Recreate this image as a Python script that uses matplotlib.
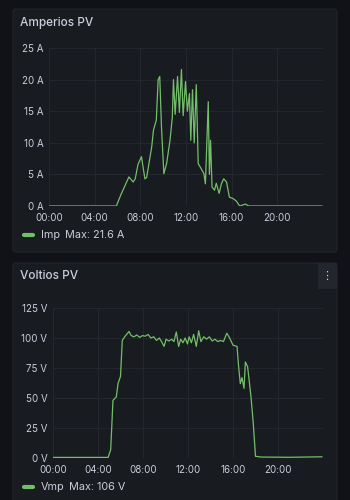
import matplotlib
matplotlib.use("Agg")
import matplotlib.pyplot as plt
from matplotlib.patches import FancyBboxPatch, Rectangle
from matplotlib.lines import Line2D

# Amperios PV (hours of day, amps)
imp_t = [0, 5.9, 6.3, 7.0, 7.37, 7.55, 7.8, 8.1, 8.4, 8.55,
         9.0, 9.15, 9.4, 9.56, 9.7, 9.85, 10.06, 10.3, 10.6, 10.8,
         10.9, 11.05, 11.26, 11.42, 11.6, 11.75, 11.96, 12.12, 12.3, 12.42,
         12.57, 12.72, 12.9, 13.07, 13.3, 13.57, 13.7, 13.95, 14.05, 14.15,
         14.28, 14.5, 14.65, 14.9, 15.1, 15.3, 15.55, 15.8, 16.1, 16.4,
         16.7, 17.2, 17.5, 23.9]
imp_v = [0, 0, 1.8, 4.6, 3.8, 4.3, 6.6, 7.8, 4.3, 4.5,
         9.4, 12.0, 13.6, 20.0, 20.5, 12.6, 5.1, 6.7, 10.4, 14.0,
         20.0, 14.5, 20.5, 14.8, 21.6, 14.3, 19.7, 15.0, 17.8, 10.4,
         18.4, 10.0, 19.2, 6.7, 6.0, 5.1, 3.5, 16.5, 5.0, 10.4,
         3.0, 2.5, 3.6, 2.0, 3.5, 4.3, 3.8, 1.4, 1.2, 0.8,
         0, 0.3, 0, 0]

# Voltios PV (hours of day, volts)
vmp_t = [0, 4.9, 5.13, 5.33, 5.63, 5.78, 6.0, 6.16, 6.37, 6.55,
         6.76, 6.95, 7.2, 7.45, 7.7, 7.95, 8.2, 8.45, 8.7, 8.95,
         9.2, 9.45, 9.65, 9.87, 10.05, 10.3, 10.55, 10.75, 10.96, 11.17,
         11.35, 11.55, 11.75, 11.95, 12.1, 12.3, 12.5, 12.74, 12.95, 13.15,
         13.4, 13.65, 13.9, 14.15, 14.4, 14.65, 14.9, 15.15, 15.45, 15.7,
         16.0, 16.36, 16.5, 16.65, 16.8, 16.98, 17.1, 17.3, 17.6, 17.8,
         18.0, 18.5, 21.0, 23.9]
vmp_v = [0.5, 0.5, 7, 48, 51, 62, 68, 98, 101, 103,
         105.5, 102, 101, 102.5, 100.5, 102, 101.5, 103, 100, 101,
         98, 100, 97, 93, 99, 97.5, 99, 97, 105, 93,
         99, 96, 100, 95, 101, 96, 103, 93, 106, 97,
         101, 99, 101, 97.5, 99, 97, 98, 97, 104, 100,
         94, 93, 76, 62, 67, 58, 80, 76, 51, 29,
         1.4, 0.8, 0.6, 1.0]

x_ticks = [0, 4, 8, 12, 16, 20]
x_labels = ["00:00", "04:00", "08:00", "12:00", "16:00", "20:00"]
imp_ticks = [0, 5, 10, 15, 20, 25]
vmp_ticks = [0, 25, 50, 75, 100, 125]

BG = "#111217"
PANEL = "#181b1f"
TXT = "#ccccdc"
GRID = "#26292f"
GREEN = "#73bf69"

plt.rcParams["font.family"] = ["Inter", "DejaVu Sans"]

W, H = 350, 500
fig = plt.figure(figsize=(3.5, 5), dpi=100, facecolor=BG)


def fx(px):
    return px / W


def fy(py):
    return 1 - py / H


def panel(x0, y0, x1, y1):
    p = FancyBboxPatch((fx(x0), fy(y1)), fx(x1 - x0), (y1 - y0) / H,
                       boxstyle="round,pad=0,rounding_size=0.008",
                       transform=fig.transFigure, facecolor=PANEL,
                       edgecolor="#22252b", linewidth=0.8, zorder=-10)
    fig.patches.append(p)


panel(13, 9, 337, 252)
panel(13, 263, 337, 505)

# menu button on lower panel
fig.patches.append(Rectangle((fx(318), fy(289)), fx(19), 26 / H,
                             transform=fig.transFigure, facecolor="#23262c",
                             edgecolor="none", zorder=-5))
fig.text(fx(327), fy(276), "⋮", color=TXT, fontsize=8, ha="center",
         va="center", family="DejaVu Sans")


def chart(box, t, v, ticks, unit, title, title_y, name, max_x, leg_y, ylim):
    x0, y0, x1, y1 = box
    ax = fig.add_axes([fx(x0), fy(y1), fx(x1 - x0), (y1 - y0) / H])
    ax.set_facecolor(PANEL)
    ax.plot(t, v, color=GREEN, lw=0.9)
    ax.set_xlim(0, 24)
    ax.set_ylim(*ylim)
    ax.set_xticks(x_ticks)
    ax.set_xticklabels(x_labels)
    ax.set_yticks(ticks)
    ax.set_yticklabels([f"{k} {unit}" for k in ticks])
    ax.grid(True, color=GRID, lw=0.6)
    ax.tick_params(length=0, colors=TXT, labelsize=7)
    ax.tick_params(axis="y", pad=4)
    ax.tick_params(axis="x", pad=5)
    for s in ax.spines.values():
        s.set_visible(False)
    fig.text(fx(20), fy(title_y), title, color=TXT, fontsize=8.5,
             fontweight="medium", va="center")
    fig.add_artist(Line2D([fx(24), fx(33)], [fy(leg_y), fy(leg_y)],
                          color=GREEN, lw=3, solid_capstyle="round",
                          transform=fig.transFigure))
    fig.text(fx(41), fy(leg_y), name, color=TXT, fontsize=7.8, va="center")
    fig.text(fx(max_x), fy(leg_y), f"Max: {max(v):g} {unit}", color=TXT,
             fontsize=7.8, va="center")
    return ax


chart((49, 48, 323, 206), imp_t, imp_v, imp_ticks, "A", "Amperios PV", 23,
      "Imp", 65, 235, (0, 25))
chart((53, 308, 323, 458), vmp_t, vmp_v, vmp_ticks, "V", "Voltios PV", 276,
      "Vmp", 69, 487, (0, 125))

fig.savefig("out.png", dpi=100, facecolor=BG)
